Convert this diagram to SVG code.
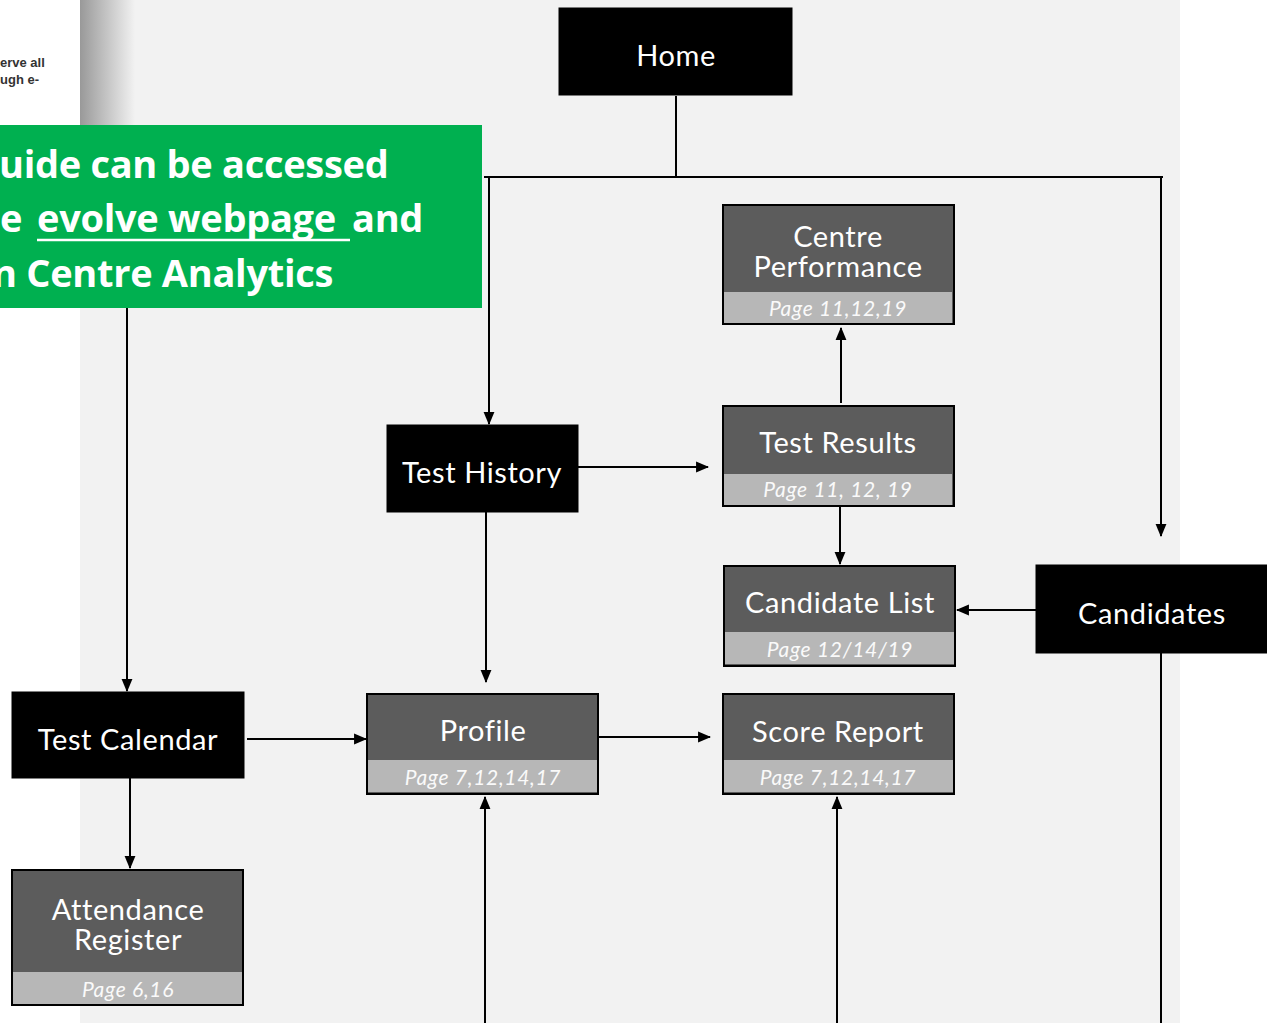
<svg xmlns="http://www.w3.org/2000/svg" width="1267" height="1023" viewBox="0 0 1267 1023">
<defs>
<linearGradient id="shade" x1="0" x2="1" y1="0" y2="0">
<stop offset="0" stop-color="#999999"/>
<stop offset="1" stop-color="#f2f2f2"/>
</linearGradient>
<marker id="arrow" viewBox="0 0 12 12" refX="11" refY="6" markerWidth="13" markerHeight="13" orient="auto" markerUnits="userSpaceOnUse">
<path d="M0,1 L12,6 L0,11 z" fill="#000"/>
</marker>
</defs>
<style>
.blk{fill:#000;stroke:#000}
.dark{fill:#5c5c5c;stroke:#000;stroke-width:2}
.band{fill:#b7b7b7}
.t{font-family:Lato,"Noto Sans",sans-serif;font-size:29px;letter-spacing:0.6px;fill:#fff;text-anchor:middle}
.p{font-family:Lato,"Noto Sans",sans-serif;font-size:21px;letter-spacing:0.7px;font-style:italic;fill:#fafafa;text-anchor:middle}
.c{stroke:#000;stroke-width:2;fill:none}
.g{font-family:"Open Sans","Noto Sans",sans-serif;font-weight:700;font-size:38px;fill:#fff}
</style>
<rect x="0" y="0" width="1267" height="1023" fill="#ffffff"/>
<rect x="80" y="0" width="1100" height="1023" fill="#f2f2f2"/>
<rect x="80" y="0" width="55" height="125" fill="url(#shade)"/>
<text x="0" y="67" font-family="Liberation Sans,Arial,sans-serif" font-weight="700" font-size="13" fill="#333">erve all</text>
<text x="0" y="84" font-family="Liberation Sans,Arial,sans-serif" font-weight="700" font-size="13" fill="#333">ugh e-</text>

<g id="green-note">
<rect x="0" y="125" width="482" height="183" fill="#00b050"/>
<text class="g" x="-1" y="178" letter-spacing="-0.3">uide can be accessed</text>
<text class="g" x="0" y="232" letter-spacing="-0.3">e<tspan x="37">evolve webpage</tspan><tspan x="352">and</tspan></text>
<line x1="37" y1="240" x2="350" y2="240" stroke="#fff" stroke-width="2.5"/>
<text class="g" x="-8" y="287" letter-spacing="-0.3">n Centre Analytics</text>
</g>

<g id="connectors">
<path class="c" d="M676,96 V177"/>
<path class="c" d="M484,177 H1163"/>
<path class="c" d="M489,177 V424" marker-end="url(#arrow)"/>
<path class="c" d="M1161,177 V536" marker-end="url(#arrow)"/>
<path class="c" d="M578,467 H708" marker-end="url(#arrow)"/>
<path class="c" d="M486,512 V682" marker-end="url(#arrow)"/>
<path class="c" d="M841,403 V328" marker-end="url(#arrow)"/>
<path class="c" d="M840,507 V564" marker-end="url(#arrow)"/>
<path class="c" d="M1036,610 H957" marker-end="url(#arrow)"/>
<path class="c" d="M1161,653 V1023"/>
<path class="c" d="M598,737 H710" marker-end="url(#arrow)"/>
<path class="c" d="M247,739 H366" marker-end="url(#arrow)"/>
<path class="c" d="M127,308 V691" marker-end="url(#arrow)"/>
<path class="c" d="M130,778 V868" marker-end="url(#arrow)"/>
<path class="c" d="M485,1023 V797" marker-end="url(#arrow)"/>
<path class="c" d="M837,1023 V797" marker-end="url(#arrow)"/>
</g>

<g id="home">
<rect class="blk" x="559" y="8" width="233" height="87"/>
<text class="t" x="676" y="66">Home</text>
</g>
<g id="test-history">
<rect class="blk" x="387" y="425" width="191" height="87"/>
<text class="t" x="482" y="483">Test History</text>
</g>
<g id="candidates">
<rect class="blk" x="1036" y="565" width="240" height="88"/>
<text class="t" x="1152" y="624">Candidates</text>
</g>
<g id="test-calendar">
<rect class="blk" x="12" y="692" width="232" height="86"/>
<text class="t" x="128" y="750">Test Calendar</text>
</g>

<g id="centre-performance">
<rect class="dark" x="723" y="205" width="231" height="119"/>
<rect class="band" x="724" y="292" width="228" height="31"/>
<text class="t" x="838" y="247">Centre</text>
<text class="t" x="838" y="277">Performance</text>
<text class="p" x="838" y="316">Page 11,12,19</text>
</g>
<g id="test-results">
<rect class="dark" x="723" y="406" width="231" height="100"/>
<rect class="band" x="724" y="474" width="228" height="31"/>
<text class="t" x="838" y="453">Test Results</text>
<text class="p" x="838" y="497">Page 11, 12, 19</text>
</g>
<g id="candidate-list">
<rect class="dark" x="724" y="566" width="231" height="100"/>
<rect class="band" x="725" y="632" width="229" height="32"/>
<text class="t" x="840" y="613">Candidate List</text>
<text class="p" x="840" y="657">Page 12/14/19</text>
</g>
<g id="profile">
<rect class="dark" x="367" y="694" width="231" height="100"/>
<rect class="band" x="368" y="760" width="229" height="32"/>
<text class="t" x="483" y="741">Profile</text>
<text class="p" x="483" y="785">Page 7,12,14,17</text>
</g>
<g id="score-report">
<rect class="dark" x="723" y="694" width="231" height="100"/>
<rect class="band" x="724" y="760" width="229" height="32"/>
<text class="t" x="838" y="742">Score Report</text>
<text class="p" x="838" y="785">Page 7,12,14,17</text>
</g>
<g id="attendance-register">
<rect class="dark" x="12" y="870" width="231" height="135"/>
<rect class="band" x="13" y="972" width="229" height="32"/>
<text class="t" x="128" y="920">Attendance</text>
<text class="t" x="128" y="950">Register</text>
<text class="p" x="128" y="997">Page 6,16</text>
</g>
</svg>
